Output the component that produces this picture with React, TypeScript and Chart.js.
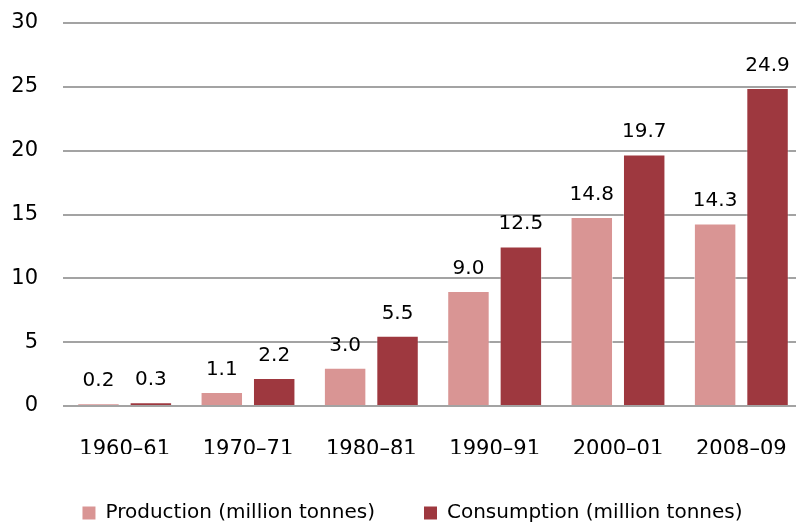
import React, { useEffect, useRef } from "react";
import { Chart, registerables } from "chart.js";

Chart.register(...registerables);

const categories = ["1960–61", "1970–71", "1980–81", "1990–91", "2000–01", "2008–09"];
const production = [0.2, 1.1, 3.0, 9.0, 14.8, 14.3];
const consumption = [0.3, 2.2, 5.5, 12.5, 19.7, 24.9];
const seriesNames = ["Production (million tonnes)", "Consumption (million tonnes)"];

const FONT = "'DejaVu Sans'";

const valueLabels = {
  id: "valueLabels",
  afterDatasetsDraw(chart: any) {
    const ctx = chart.ctx;
    ctx.save();
    ctx.font = `20px ${FONT}`;
    ctx.fillStyle = "#000";
    ctx.textAlign = "center";
    ctx.textBaseline = "alphabetic";
    chart.data.datasets.forEach((ds: any, i: number) => {
      const meta = chart.getDatasetMeta(i);
      meta.data.forEach((bar: any, j: number) => {
        const v = ds.data[j] as number;
        ctx.fillText(v.toFixed(1), bar.x, bar.y - 17);
      });
    });
    ctx.restore();
  },
};

// centre the legend row on the same point as the reference (shift its box to the right)
const legendShift = {
  id: "legendShift",
  afterLayout(chart: any) {
    if (chart.legend) chart.legend.left += 22;
  },
};

export default function App() {
  const ref = useRef<HTMLCanvasElement | null>(null);
  useEffect(() => {
    if (!ref.current) return;
    const chart = new Chart(ref.current, {
      type: "bar",
      data: {
        labels: categories,
        datasets: [
          {
            label: seriesNames[0],
            data: production,
            backgroundColor: "#d99594",
            borderColor: "rgba(255,255,255,0.55)",
            borderWidth: 1,
            categoryPercentage: 0.85,
            barPercentage: 0.81,
          },
          {
            label: seriesNames[1],
            data: consumption,
            backgroundColor: "#9e383f",
            borderColor: "rgba(255,255,255,0.35)",
            borderWidth: 1,
            categoryPercentage: 0.85,
            barPercentage: 0.81,
          },
        ],
      },
      options: {
        responsive: false,
        animation: false,
        layout: { padding: { top: 23, left: 0, right: 0, bottom: 0 } },
        plugins: {
          legend: {
            position: "bottom",
            maxHeight: 71,
            labels: {
              font: { family: FONT, size: 20 },
              color: "#000",
              boxWidth: 13,
              boxHeight: 13,
              padding: 49,
              generateLabels: (c: any) =>
                c.data.datasets.map((ds: any, i: number) => ({
                  text: ds.label,
                  fillStyle: ds.backgroundColor,
                  strokeStyle: ds.backgroundColor,
                  lineWidth: 0,
                  fontColor: "#000",
                  datasetIndex: i,
                  hidden: false,
                })),
            },
          },
          tooltip: { enabled: false },
        },
        scales: {
          x: {
            grid: { display: false },
            border: { display: false },
            ticks: {
              font: { family: FONT, size: 21 },
              color: "#000",
              padding: 23,
              maxRotation: 0,
            },
            afterFit: (s: any) => {
              s.height = 48;
              s.paddingLeft = 0;
              s.paddingRight = 0;
            },
          },
          y: {
            min: 0,
            max: 30,
            border: { display: false },
            grid: { color: "#a3a3a3", lineWidth: 2, drawTicks: false },
            ticks: {
              stepSize: 5,
              font: { family: FONT, size: 21 },
              color: "#000",
              padding: 25,
            },
            afterFit: (s: any) => {
              s.width = 63;
              s.paddingTop = 0;
              s.paddingBottom = 0;
            },
          },
        },
      },
      plugins: [valueLabels, legendShift],
    });
    return () => chart.destroy();
  }, []);
  return (
    <div
      style={{
        position: "fixed",
        left: 0,
        top: 0,
        width: 796,
        height: 525,
        overflow: "hidden",
        background: "#fff",
      }}
    >
      <canvas ref={ref} width={803} height={525} style={{ display: "block" }} />
    </div>
  );
}
